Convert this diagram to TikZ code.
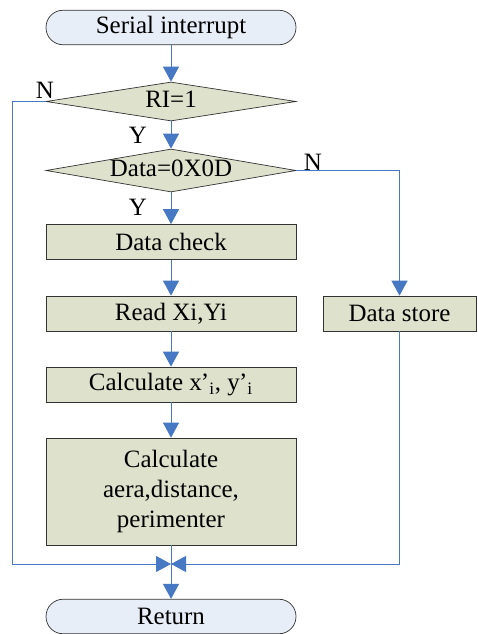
\documentclass[tikz,border=0pt]{standalone}
\usepackage{fontspec}
\setmainfont{Liberation Serif}
\usepackage{tikz}
\usetikzlibrary{shapes, positioning, arrows.meta, calc}
\definecolor{flowblue}{RGB}{70,120,196}
\definecolor{termfill}{RGB}{232,238,247}
\definecolor{procfill}{RGB}{222,225,204}

\begin{document}
\begin{tikzpicture}[x=0.02cm,y=-0.02cm,>={Triangle[width=0.32cm,length=0.3cm]},
  font=\fontsize{14.2}{17}\selectfont,
  term/.style={draw=black!80,fill=termfill,rounded corners=0.34cm,minimum width=5cm,minimum height=0.69cm,inner sep=0pt},
  proc/.style={draw=black!80,fill=procfill,minimum width=5cm,minimum height=0.7cm,inner sep=0pt,align=center},
  decide/.style={diamond,draw=black!80,fill=procfill,aspect=6.25,inner sep=0pt,text height=0.3cm,text depth=0.05cm,minimum width=5cm},
  flow/.style={draw=flowblue,line width=0.55pt}]
\useasboundingbox (0,0) rectangle (477,634);
% main column
\node[term] (start) at (171,27.5) {Serial interrupt};
\node[decide,minimum height=0.78cm] (ri) at (171,101.5) {RI=1};
\node[decide,minimum height=0.86cm] (data) at (171,170.5) {Data=0X0D};
\node[proc] (check) at (171,242) {Data check};
\node[proc] (read) at (171,313.5) {Read Xi,Yi};
\node[proc] (calcxy) at (171,384.5) {Calculate x\kern-0.5pt'\textsubscript{i}, y\kern-0.5pt'\textsubscript{i}};
\node[proc,minimum height=2.14cm] (calcarea) at (171,491.5) {Calculate\\aera,distance,\\perimenter};
\node[term] (ret) at (171,616.5) {Return};
% side branch
\node[proc,minimum width=3.06cm] (store) at (399.5,313.5) {Data store};
\coordinate (join) at (171,564);

% branch labels
\node (n1) at (45,90) {N};
\node (y1) at (138,135) {Y};
\node (n2) at (313,162) {N};
\node (y2) at (138,207) {Y};

% connectors
\draw[flow,->] (start.south) -- (ri.north);
\draw[flow,->] (ri.south) -- (data.north);
\draw[flow,->] (data.south) -- (check.north);
\draw[flow,->] (check.south) -- (read.north);
\draw[flow,->] (read.south) -- (calcxy.north);
\draw[flow,->] (calcxy.south) -- (calcarea.north);
\draw[flow] (calcarea.south) -- (join);
\draw[flow,->] (join) -- (ret.north);
\draw[flow,->] (ri.west) -- ++(-33,0) |- (join);
\draw[flow,->] (data.east) -| (store.north);
\draw[flow,->] (store.south) |- (join);
\end{tikzpicture}
\end{document}
